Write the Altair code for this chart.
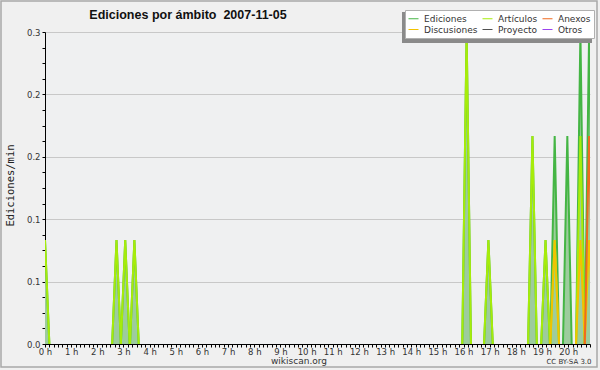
import altair as alt
import pandas as pd

# ---- data -----------------------------------------------------------------
# legend order (filled column by column: 3 columns x 2 rows)
SERIES = ["Ediciones", "Discusiones", "Artículos", "Proyecto", "Anexos", "Otros"]
COLORS = ["#44b544", "#f2c200", "#a6ec0a", "#505050", "#f06a1e", "#9a44ee"]

# minute of day of each non-empty 10-minute sample
PEAK_MIN = [0, 164, 184, 205, 967, 1017, 1118, 1148, 1169, 1198, 1228, 1248]
EDICIONES = [0.1, 0.1, 0.1, 0.1, 0.3, 0.1, 0.2, 0.1, 0.2, 0.2, 0.3, 0.3]
ARTICULOS = [0.1, 0.1, 0.1, 0.1, 0.3, 0.1, 0.2, 0.1, 0.1, 0.0, 0.2, 0.0]
ANEXOS = [0.0, 0.0, 0.0, 0.0, 0.0, 0.0, 0.0, 0.0, 0.0, 0.0, 0.0, 0.2]
DISCUSIONES = [0.0, 0.0, 0.0, 0.0, 0.0, 0.0, 0.0, 0.0, 0.1, 0.0, 0.1, 0.1]
PROYECTO = [0.0] * 12
OTROS = [0.0] * 12
BIN = 10  # minutes between samples

TITLE = "Ediciones por ámbito\u00a0 2007-11-05"

values = {
    "Ediciones": EDICIONES,
    "Artículos": ARTICULOS,
    "Discusiones": DISCUSIONES,
    "Anexos": ANEXOS,
    "Proyecto": PROYECTO,
    "Otros": OTROS,
}

rows = []
for name, vals in values.items():
    for k, (t, v) in enumerate(zip(PEAK_MIN, vals)):
        if v > 0:
            rows.append(dict(series=name, seg=k, t=t - BIN, v=0.0))
            rows.append(dict(series=name, seg=k, t=t, v=v))
            rows.append(dict(series=name, seg=k, t=t + BIN, v=0.0))
df = pd.DataFrame(rows)
df_ed = df[df.series == "Ediciones"]

major_test = "abs(datum.value/0.06 - round(datum.value/0.06)) < 0.01"

x = alt.X(
    "t:Q",
    scale=alt.Scale(domain=[0, 1250], nice=False, zero=False),
    axis=alt.Axis(
        values=list(range(0, 1251, 10)),
        labelExpr="datum.value % 60 == 0 ? (datum.value/60) + ' h' : ''",
        title=None, grid=False, tickSize=3, tickColor="black",
        domainColor="black", labelOverlap=False, labelFlush=False,
        labelFontSize=8.5, labelFont="DejaVu Sans", labelColor="#333",
        labelPadding=0,
    ),
)
y = alt.Y(
    "v:Q",
    scale=alt.Scale(domain=[0, 0.3], nice=False),
    axis=alt.Axis(
        values=[round(0.015 * k, 3) for k in range(21)],
        labelExpr=f"{major_test} ? format(datum.value, '.1f') : ''",
        gridOpacity={"condition": {"test": major_test, "value": 1}, "value": 0},
        gridColor="#c8c8c8", tickSize=3, tickColor="black", domainColor="black",
        labelOverlap=False, labelFlush=False, labelFontSize=8.5,
        labelFont="DejaVu Sans", labelColor="#333", labelPadding=2,
        title="Ediciones/min", titleFont="DejaVu Sans Mono", titleFontSize=10.5,
        titleFontWeight="normal", titleColor="#222", titleX=-35, titleY=153,
        titleAlign="center", titleBaseline="middle", titleAngle=270,
    ),
)

area = alt.Chart(df_ed).mark_area(color="#9dcc9d", clip=True).encode(
    x=x, y=y, detail="seg:N"
)
lines = alt.Chart(df).mark_line(strokeWidth=2, clip=True).encode(
    x=x, y=y, detail="seg:N",
    color=alt.Color(
        "series:N",
        scale=alt.Scale(domain=SERIES, range=COLORS),
        legend=alt.Legend(
            orient="none", legendX=360, legendY=-22, columns=3, title=None,
            symbolType="stroke", symbolSize=100, symbolStrokeWidth=1,
            labelFontSize=9, labelFont="DejaVu Sans", labelColor="#333",
            fillColor="white", strokeColor="#b0b0b0", padding=3,
            rowPadding=0, columnPadding=2, labelOffset=5,
        ),
    ),
)

one = pd.DataFrame({"a": [0]})
shadow = alt.Chart(one).mark_rect(color="#8a8a8a").encode(
    x=alt.value(357), x2=alt.value(547), y=alt.value(-20), y2=alt.value(11)
)
frame = alt.Chart(one).mark_rect(
    fillOpacity=0, stroke="#a8a8a8", strokeWidth=1.5
).encode(x=alt.value(-44), x2=alt.value(552), y=alt.value(-31), y2=alt.value(335))

title = alt.Chart(one).mark_text(
    text=TITLE, fontSize=12.5, font="Liberation Sans", fontWeight="bold",
    color="#111", baseline="middle", align="center",
).encode(x=alt.value(143), y=alt.value(-17))
site = alt.Chart(one).mark_text(
    text="wikiscan.org", fontSize=9, font="DejaVu Sans", color="#333"
).encode(x=alt.value(254), y=alt.value(329))
lic = alt.Chart(one).mark_text(
    text="CC BY-SA 3.0", fontSize=7, font="DejaVu Sans", color="#333"
).encode(x=alt.value(524), y=alt.value(330))

chart = alt.layer(frame, area, lines, shadow, title, site, lic).properties(
    width=545, height=312,
    autosize=alt.AutoSizeParams(type="none"),
    padding={"left": 45, "top": 32, "right": 10, "bottom": 26},
    background="#f0f0f0",
).configure_view(stroke=None, fill="#eff0f1")

chart.save("out.html", embed_options={"renderer": "svg", "actions": False})
